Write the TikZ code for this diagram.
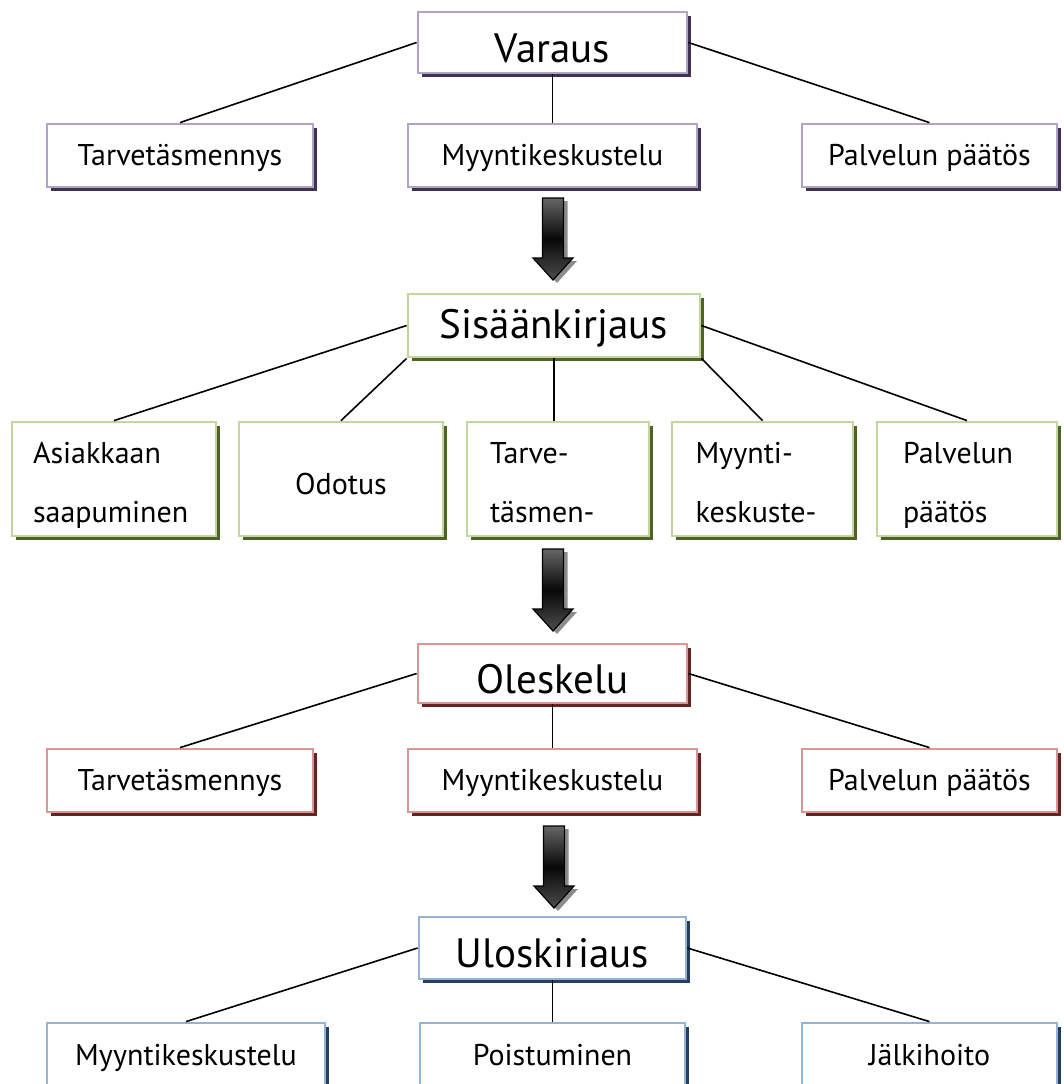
\documentclass[tikz,border=0pt]{standalone}
\usepackage{fontspec}
\setmainfont{PT Sans}
\usetikzlibrary{shadows}
\definecolor{pbord}{HTML}{B3A2C7}\definecolor{pshad}{HTML}{3F3151}
\definecolor{gbord}{HTML}{C3D69B}\definecolor{gshad}{HTML}{4F6228}
\definecolor{rbord}{HTML}{D99694}\definecolor{rshad}{HTML}{632423}
\definecolor{bbord}{HTML}{95B3D7}\definecolor{bshad}{HTML}{243F60}
\newcommand\lab{\fontsize{30}{59}\selectfont}
\newcommand\ttl{\fontsize{41}{44}\selectfont}
\newcommand\blkarrow[2]{%
  \fill[black!45] ({#1-10.5+4},{#2+3}) -- ({#1+10.5+4},{#2+3}) -- ({#1+10.5+4},{#2+60+3}) -- ({#1+20+4},{#2+60+3}) -- ({#1+4},{#2+82+3}) -- ({#1-20+4},{#2+60+3}) -- ({#1-10.5+4},{#2+60+3}) -- cycle;
  \draw[line width=1.2pt, top color=black!60, bottom color=black!70, middle color=black!97, line join=miter]
    ({#1-10.5},{#2}) -- ({#1+10.5},{#2}) -- ({#1+10.5},{#2+60}) -- ({#1+20},{#2+60}) -- ({#1},{#2+82}) -- ({#1-20},{#2+60}) -- ({#1-10.5},{#2+60}) -- cycle;}
\tikzset{
  bx/.style 2 args={draw=#1, line width=2.8pt, fill=white, inner sep=0pt, text depth=0pt,
     general shadow={fill=#2, shadow xshift=4pt, shadow yshift=-4pt}},
  pbx/.style={bx={pbord}{pshad}},
  gbx/.style={bx={gbord}{gshad}},
  rbx/.style={bx={rbord}{rshad}},
  bbx/.style={bx={bbord}{bshad}},
  lbl/.style={font=\lab, text height=19pt, minimum height=63pt},
  two/.style={font=\lab, minimum height=114pt, align=left, text height=27pt, text depth=59pt},
  ttlb/.style={font=\ttl},
  conn/.style={line width=1.6pt, black},
}
\begin{document}
\begin{tikzpicture}[x=1pt,y=-1pt]
\path[use as bounding box, clip] (0,0) rectangle (1063,1084);
% Level 1
\node[pbx, ttlb, minimum width=269pt, minimum height=61pt, text height=39pt] (varaus) at (552.5,42.5) {Varaus};
\node[pbx, lbl, minimum width=266pt] (t1) at (180,155.5) {Tarvetäsmennys};
\node[pbx, lbl, minimum width=289pt] (m1) at (552.5,155.5) {Myyntikeskustelu};
\node[pbx, lbl, minimum width=255pt] (p1) at (929.5,155.5) {Palvelun päätös};
\draw[conn] (varaus.west) -- (t1.north);
\draw[conn] (varaus.south) -- (m1.north);
\draw[conn] (varaus.east) -- (p1.north);
\blkarrow{553}{198}
% Level 2
\node[gbx, ttlb, minimum width=292pt, minimum height=63pt, text height=25pt] (sis) at (554,325.5) {Sisäänkirjaus};
\node[gbx, two, minimum width=204pt, text width=162pt] (a2) at (114,479) {Asiakkaan\\saapuminen};
\node[gbx, font=\lab, minimum width=204pt, minimum height=114pt, text height=30pt] (o2) at (341,479) {Odotus};
\node[gbx, two, minimum width=182pt, text width=136pt] (t2) at (558,479) {Tarve-\\täsmen-};
\node[gbx, two, minimum width=181pt, text width=134pt] (m2) at (762.5,479) {Myynti-\\keskuste-};
\node[gbx, two, minimum width=180pt, text width=128pt] (p2) at (967,479) {Palvelun\\päätös};
\draw[conn] (sis.west) -- (a2.north);
\draw[conn] (sis.south west) -- (o2.north);
\draw[conn] (sis.south) -- (sis.south |- t2.north);
\draw[conn] (sis.south east) -- (m2.north);
\draw[conn] (sis.east) -- (p2.north);
\blkarrow{553}{549}
% Level 3
\node[rbx, ttlb, minimum width=269pt, minimum height=59pt, text height=39pt] (ole) at (552.5,673.5) {Oleskelu};
\node[rbx, lbl, minimum width=266pt] (t3) at (180,780.5) {Tarvetäsmennys};
\node[rbx, lbl, minimum width=289pt] (m3) at (552.5,780.5) {Myyntikeskustelu};
\node[rbx, lbl, minimum width=255pt] (p3) at (929.5,780.5) {Palvelun päätös};
\draw[conn] (ole.west) -- (t3.north);
\draw[conn] (ole.south) -- (m3.north);
\draw[conn] (ole.east) -- (p3.north);
\blkarrow{554}{826}
% Level 4
\node[bbx, ttlb, minimum width=267pt, minimum height=62pt, text height=38pt] (ulo) at (552.5,948) {Uloskiriaus};
\node[bbx, font=\lab, text height=21pt, minimum height=63pt, minimum width=278pt] (m4) at (186,1054.5) {Myyntikeskustelu};
\node[bbx, font=\lab, text height=21pt, minimum height=63pt, minimum width=265pt] (po4) at (552.5,1054.5) {Poistuminen};
\node[bbx, font=\lab, text height=21pt, minimum height=63pt, minimum width=255pt] (j4) at (929.5,1054.5) {Jälkihoito};
\draw[conn] (ulo.west) -- (m4.north);
\draw[conn] (ulo.south) -- (po4.north);
\draw[conn] (ulo.east) -- (j4.north);
\end{tikzpicture}
\end{document}
